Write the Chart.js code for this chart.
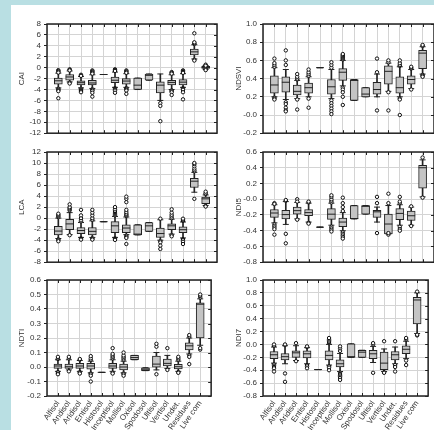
<!DOCTYPE html>
<html>
<head>
<meta charset="utf-8">
<script src="https://cdn.jsdelivr.net/npm/chart.js@4.4.1/dist/chart.umd.min.js"></script>
<style>
  body { margin: 0; width: 434px; height: 430px; background: #b9dfe3; overflow: hidden; position: relative; }
  #paper { position: absolute; left: 11px; top: 5px; right: 0; bottom: 0; background: #fff; }
  canvas { position: absolute; }
</style>
</head>
<body>
<div id="paper"></div>
<canvas id="cai" width="222" height="141" style="left:0px;top:0px"></canvas>
<canvas id="ndsvi" width="222" height="141" style="left:217px;top:0px"></canvas>
<canvas id="lca" width="222" height="142" style="left:0px;top:128px"></canvas>
<canvas id="ndi5" width="222" height="142" style="left:217px;top:128px"></canvas>
<canvas id="ndti" width="222" height="174" style="left:0px;top:256px"></canvas>
<canvas id="ndi7" width="222" height="174" style="left:217px;top:256px"></canvas>
<script>
// soil orders + residues / live corn
var categories = ['Alfisol', 'Andisol', 'Aridisol', 'Entisol', 'Histosol', 'Inceptisol', 'Mollisol',
  'Oxisol', 'Spodosol', 'Ultisol', 'Vertisol', 'Undet.', 'Residues', 'Live com'];

// each row: [whisker low, q1, median, q3, whisker high]
var caiStats = [
  [-3.7, -3.0, -2.4, -1.9, -1.0], [-2.6, -2.3, -1.7, -1.25, -0.6], [-3.7, -3.15, -2.75, -2.4, -1.6],
  [-3.8, -3.15, -2.8, -2.3, -1.3], [-1.25, -1.25, -1.25, -1.25, -1.25], [-3.6, -2.75, -2.3, -1.7, -0.8],
  [-3.6, -3.0, -2.45, -2.0, -1.1], [-4.0, -4.0, -3.2, -1.9, -1.9], [-2.3, -2.3, -1.4, -1.15, -1.15],
  [-6.0, -4.6, -3.2, -2.6, -1.15], [-4.0, -3.15, -2.7, -2.3, -1.3], [-3.6, -3.15, -2.65, -2.2, -1.1],
  [1.6, 2.35, 2.9, 3.4, 4.2], [-0.3, -0.15, 0.05, 0.25, 0.4]
];
var caiOut = [
  [-0.45, -0.6, -0.75, -0.9, -3.85, -4.0, -4.15, -4.3, -5.6], [-0.3, -0.4, -0.5, -2.75, -2.9], [-1.3, -1.4, -1.5, -3.85, -4.0, -4.15, -4.3, -4.5],
  [-0.5, -0.65, -0.8, -0.95, -1.1, -3.95, -4.1, -4.25, -4.6, -5.3], [], [-0.3, -0.45, -0.6, -3.75, -3.9, -4.05, -4.2, -4.6],
  [-0.5, -0.65, -0.8, -0.95, -3.75, -3.9, -4.05, -4.2, -4.8], [], [],
  [-6.5, -7.0, -9.8], [-0.8, -0.95, -1.1, -4.15, -4.3, -4.5, -5.0], [-0.5, -0.65, -0.8, -0.95, -3.75, -3.9, -4.05, -4.5, -5.8],
  [4.35, 4.5, 4.65, 6.3, 1.45, 1.3], [0.45, 0.55, 0.35, -0.35, -0.25, -0.45]
];

var ndsviStats = [
  [0.2, 0.24, 0.33, 0.43, 0.52], [0.17, 0.25, 0.36, 0.42, 0.5], [0.18, 0.22, 0.26, 0.33, 0.38],
  [0.2, 0.24, 0.3, 0.35, 0.42], [0.52, 0.52, 0.52, 0.52, 0.52], [0.18, 0.23, 0.31, 0.39, 0.5],
  [0.32, 0.38, 0.47, 0.51, 0.6], [0.16, 0.16, 0.38, 0.39, 0.39], [0.2, 0.2, 0.23, 0.3, 0.3],
  [0.2, 0.23, 0.28, 0.36, 0.45], [0.26, 0.34, 0.48, 0.54, 0.57], [0.2, 0.24, 0.3, 0.42, 0.53],
  [0.29, 0.34, 0.39, 0.43, 0.5], [0.45, 0.51, 0.68, 0.71, 0.75]
];
var ndsviOut = [
  [0.53, 0.55, 0.57, 0.62, 0.19, 0.18, 0.17], [0.55, 0.6, 0.71, 0.14, 0.12, 0.08, 0.05, 0.04], [0.39, 0.4, 0.42, 0.45, 0.17, 0.06],
  [0.43, 0.45, 0.47, 0.5, 0.18, 0.08], [], [0.52, 0.55, 0.58, 0.16, 0.13, 0.1, 0.07, 0.04, 0.01],
  [0.61, 0.62, 0.63, 0.64, 0.65, 0.66, 0.67, 0.3, 0.28, 0.25, 0.2, 0.11], [], [],
  [0.47, 0.62, 0.05], [0.58, 0.6, 0.25, 0.05], [0.54, 0.55, 0.57, 0.6, 0.18, 0.17, 0.0],
  [0.51, 0.52, 0.53, 0.28], [0.76, 0.77, 0.44, 0.43, 0.42]
];

var lcaStats = [
  [-3.7, -3.05, -2.35, -1.5, 0.0], [-3.0, -2.1, -1.05, -0.2, 1.0], [-3.5, -2.8, -2.25, -1.7, -0.8],
  [-3.5, -3.05, -2.4, -1.7, -0.5], [-0.65, -0.65, -0.65, -0.65, -0.65], [-3.5, -2.65, -1.4, -0.65, 0.3],
  [-3.0, -2.65, -1.8, -1.2, 0.2], [-3.05, -3.05, -2.9, -1.2, -1.2], [-2.4, -2.4, -1.4, -0.8, -0.8],
  [-4.0, -3.5, -2.8, -1.8, -0.3], [-2.9, -2.1, -1.4, -1.05, -0.2], [-3.6, -2.65, -2.1, -1.6, -0.7],
  [4.7, 5.55, 6.7, 7.2, 8.3], [2.3, 2.6, 3.5, 3.8, 4.2]
];
var lcaOut = [
  [0.2, 0.4, 0.6, 0.8, -3.85, -4.0, -4.2], [1.4, 1.6, 1.8, 2.0, 2.5, -3.1], [-0.6, -0.4, 0.0, 0.5, 1.5, -3.65, -3.8, -3.9],
  [-0.3, 0.0, 0.5, 1.0, 1.5, -3.65, -3.8, -3.9], [], [0.5, 0.7, 0.9, 1.1, 1.3, 1.6, 2.0, -3.65, -3.8, -3.95],
  [0.4, 0.6, 0.8, 1.1, 1.5, 2.9, 3.5, 3.9, -3.2, -3.4, -3.6, -4.7], [], [],
  [-0.1, -4.2, -4.4, -5.0, -5.6], [0.0, 0.3, 0.6, 1.0, 1.6, -3.1, -3.3], [-0.5, -0.3, -0.1, -3.8, -4.0, -4.3, -4.7],
  [8.5, 8.7, 9.0, 9.4, 9.8, 10.0, 3.5], [4.4, 4.5, 4.8, 2.2, 2.1]
];

var ndi5Stats = [
  [-0.3, -0.23, -0.175, -0.13, -0.07], [-0.32, -0.25, -0.195, -0.14, -0.03], [-0.25, -0.19, -0.145, -0.1, -0.04],
  [-0.29, -0.21, -0.17, -0.13, -0.05], [-0.355, -0.355, -0.355, -0.355, -0.355], [-0.33, -0.255, -0.19, -0.12, -0.05],
  [-0.4, -0.35, -0.29, -0.24, -0.17], [-0.25, -0.25, -0.245, -0.08, -0.08], [-0.19, -0.19, -0.09, -0.08, -0.08],
  [-0.29, -0.23, -0.16, -0.14, -0.1], [-0.44, -0.44, -0.315, -0.19, -0.08], [-0.33, -0.26, -0.18, -0.12, -0.07],
  [-0.33, -0.27, -0.21, -0.15, -0.1], [0.03, 0.14, 0.4, 0.43, 0.5]
];
var ndi5Out = [
  [-0.05, -0.06, -0.32, -0.34, -0.36, -0.38, -0.45], [-0.02, -0.01, -0.44, -0.56], [0.0, -0.03, -0.26],
  [-0.04, -0.03, -0.3, -0.31], [], [-0.04, -0.02, 0.0, 0.03, 0.05, -0.35, -0.37, -0.39, -0.41],
  [-0.15, -0.1, -0.05, 0.02, -0.42, -0.44, -0.46, -0.48, -0.5], [], [],
  [-0.05, 0.03, -0.43], [0.07, -0.05, -0.45, -0.43], [-0.05, -0.03, 0.03, -0.35, -0.38, -0.4],
  [-0.09, -0.34], [0.53, 0.02]
];

var ndtiStats = [
  [-0.03, -0.01, 0.007, 0.02, 0.05], [-0.02, -0.01, 0.002, 0.02, 0.05], [-0.03, -0.01, 0.007, 0.025, 0.045],
  [-0.04, -0.015, 0.007, 0.025, 0.04], [-0.037, -0.037, -0.037, -0.037, -0.037], [-0.03, -0.01, 0.007, 0.025, 0.05],
  [-0.04, -0.02, 0.0, 0.02, 0.04], [0.05, 0.05, 0.065, 0.08, 0.08], [-0.025, -0.025, -0.015, -0.005, -0.005],
  [-0.02, -0.002, 0.02, 0.075, 0.1], [-0.01, 0.007, 0.025, 0.055, 0.08], [-0.03, -0.014, 0.002, 0.018, 0.04],
  [0.09, 0.117, 0.146, 0.167, 0.2], [0.15, 0.2, 0.433, 0.443, 0.47]
];
var ndtiOut = [
  [0.055, 0.06, 0.07, -0.035, -0.045, -0.05], [0.06, 0.07, -0.03], [0.05, 0.055, -0.035, -0.04, -0.045],
  [0.05, 0.06, 0.075, -0.045, -0.05, -0.06, -0.1], [], [0.06, 0.07, 0.08, 0.09, 0.13, -0.04, -0.045],
  [0.05, 0.06, 0.07, 0.08, 0.1, -0.045, -0.05, -0.06], [], [],
  [0.14, 0.16, -0.05], [0.13, -0.02], [0.05, 0.06, 0.07, -0.035, -0.04],
  [0.21, 0.22, 0.08, 0.07, 0.02], [0.48, 0.49, 0.5, 0.12, 0.13]
];

var ndi7Stats = [
  [-0.29, -0.22, -0.16, -0.11, -0.04], [-0.3, -0.24, -0.19, -0.14, -0.02], [-0.25, -0.2, -0.13, -0.1, -0.02],
  [-0.3, -0.21, -0.145, -0.1, -0.05], [-0.39, -0.39, -0.39, -0.39, -0.39], [-0.32, -0.24, -0.17, -0.1, 0.0],
  [-0.42, -0.35, -0.3, -0.24, -0.14], [-0.2, -0.2, -0.19, 0.01, 0.01], [-0.2, -0.2, -0.12, -0.09, -0.09],
  [-0.28, -0.22, -0.145, -0.09, -0.03], [-0.42, -0.39, -0.29, -0.12, -0.07], [-0.3, -0.24, -0.16, -0.11, -0.04],
  [-0.22, -0.145, -0.075, -0.02, 0.05], [0.17, 0.32, 0.69, 0.73, 0.8]
];
var ndi7Out = [
  [-0.02, 0.0, -0.31, -0.33, -0.35, -0.37, -0.42], [-0.01, 0.0, -0.45, -0.58], [0.02, -0.26],
  [-0.04, -0.03, -0.32, -0.34, -0.37], [], [0.02, 0.04, 0.06, 0.08, 0.1, -0.34, -0.36, -0.4],
  [-0.1, -0.06, -0.03, -0.44, -0.46, -0.48, -0.5, -0.52, -0.55], [], [],
  [0.0, 0.02, -0.44], [0.05, -0.43, -0.44], [0.05, -0.32, -0.35, -0.42],
  [0.08, 0.1, -0.25, -0.32], [0.82, 0.14, 0.15]
];

var FONT = { family: 'Liberation Sans', size: 8 };
var GRID = '#d4d4d4';
var INK = '#222';

// dark frame plus the little inside tick marks
var framePlugin = {
  id: 'frame',
  afterDatasetsDraw: function (chart) {
    var ctx = chart.ctx, a = chart.chartArea, x = chart.scales.x, y = chart.scales.y;
    ctx.save();
    ctx.strokeStyle = INK;
    ctx.lineWidth = 1.5;
    ctx.strokeRect(a.left, a.top, a.right - a.left, a.bottom - a.top);
    ctx.lineWidth = 1;
    ctx.beginPath();
    for (var i = 1; i <= categories.length; i++) {
      var px = Math.round(x.getPixelForValue(i)) + 0.5;
      ctx.moveTo(px, a.top); ctx.lineTo(px, a.top + 3);
      ctx.moveTo(px, a.bottom); ctx.lineTo(px, a.bottom - 3);
    }
    y.ticks.forEach(function (t) {
      var py = Math.round(y.getPixelForValue(t.value)) + 0.5;
      ctx.moveTo(a.right, py); ctx.lineTo(a.right - 3, py);
    });
    ctx.stroke();
    ctx.restore();
  }
};

function pad(arr) {
  return [null].concat(arr, [null]);
}

function boxChart(id, stats, outliers, title, yMin, yMax, step, decimals, yWidth, xHeight, showLabels) {
  var outPoints = [];
  categories.forEach(function (c, i) {
    outliers[i].forEach(function (v) { outPoints.push({ x: c, y: v }); });
  });
  var marker = { type: 'line', showLine: false, pointStyle: 'line', pointBorderColor: INK, pointBorderWidth: 1 };
  return new Chart(document.getElementById(id), {
    type: 'bar',
    data: {
      labels: [''].concat(categories, ['']),
      datasets: [
        { type: 'line', data: outPoints, showLine: false, pointRadius: 1.7, pointBorderWidth: 1,
          pointBorderColor: '#111', pointBackgroundColor: '#fff', order: 0 },
        Object.assign({ data: pad(stats.map(function (s) { return s[2]; })), pointRadius: 4, order: 1 }, marker),
        { type: 'bar', data: pad(stats.map(function (s) { return [s[1], s[3]]; })), barThickness: 8,
          backgroundColor: '#c4c4c4', borderColor: INK, borderWidth: 1, borderSkipped: false, grouped: false, order: 2 },
        Object.assign({ data: pad(stats.map(function (s) { return s[0]; })), pointRadius: 3, order: 3 }, marker),
        Object.assign({ data: pad(stats.map(function (s) { return s[4]; })), pointRadius: 3, order: 3 }, marker),
        { type: 'bar', data: pad(stats.map(function (s) { return [s[0], s[4]]; })), barThickness: 1,
          backgroundColor: INK, grouped: false, order: 4 }
      ]
    },
    options: {
      responsive: false,
      animation: false,
      events: [],
      devicePixelRatio: 1,
      layout: { padding: { top: 24, right: 2, left: 0, bottom: 0 } },
      plugins: { legend: { display: false }, tooltip: { enabled: false } },
      scales: {
        x: {
          type: 'category',
          offset: false,
          grid: { color: GRID, offset: false, drawTicks: false },
          border: { display: false },
          ticks: { display: showLabels, autoSkip: false, maxRotation: 55, minRotation: 55,
                   font: FONT, color: '#333', padding: 3 },
          afterFit: function (s) { s.height = xHeight; }
        },
        y: {
          min: yMin,
          max: yMax,
          grid: { color: GRID, tickColor: INK, tickLength: 3 },
          border: { display: false },
          ticks: { stepSize: step, autoSkip: false, font: FONT, color: '#333', padding: 3,
                   callback: function (v) { return v.toFixed(decimals); } },
          title: { display: true, text: title, font: FONT, color: '#333', padding: { top: 17, bottom: 0 } },
          afterFit: function (s) { s.width = yWidth; }
        }
      }
    },
    plugins: [framePlugin]
  });
}

boxChart('cai', caiStats, caiOut, 'CAI', -12, 8, 2, 0, 47, 2, false);
boxChart('ndsvi', ndsviStats, ndsviOut, 'NDSVI', -0.2, 1.0, 0.2, 1, 46, 2, false);
boxChart('lca', lcaStats, lcaOut, 'LCA', -8, 12, 2, 0, 47, 2, false);
boxChart('ndi5', ndi5Stats, ndi5Out, 'NDI5', -0.8, 0.6, 0.2, 1, 46, 2, false);
boxChart('ndti', ndtiStats, ndtiOut, 'NDTI', -0.2, 0.6, 0.1, 1, 47, 34, true);
boxChart('ndi7', ndi7Stats, ndi7Out, 'NDI7', -0.8, 1.0, 0.2, 1, 46, 34, true);
</script>
</body>
</html>
